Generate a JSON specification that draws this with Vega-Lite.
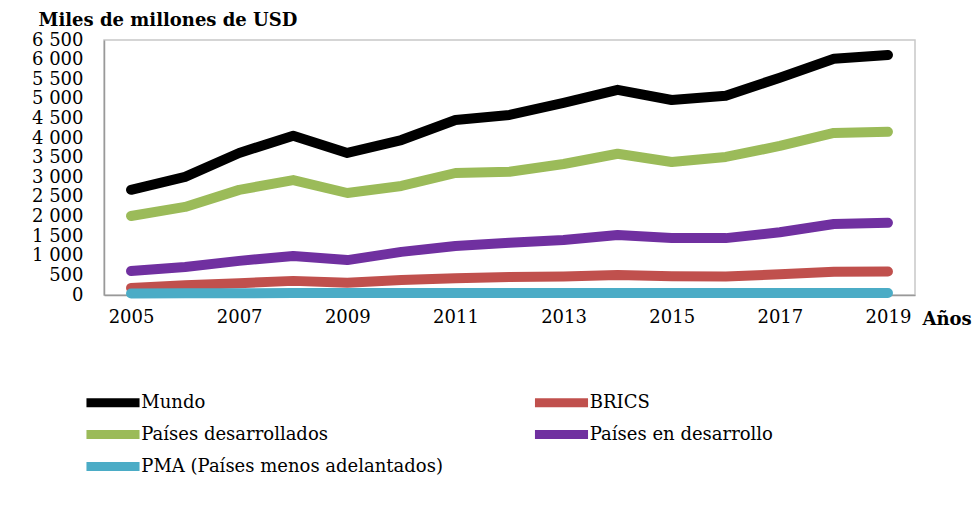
{
  "$schema": "https://vega.github.io/schema/vega-lite/v6.json",
  "autosize": {"type": "none"},
  "width": 811,
  "height": 255,
  "padding": {"left": 104, "top": 40, "right": 59, "bottom": 210},
  "background": "white",
  "config": {
    "font": "DejaVu Serif",
    "view": {"stroke": "#c8c8c8", "strokeWidth": 1.5}
  },
  "data": {
    "values": [
      {"year": 2005, "serie": "Mundo", "value": 2680},
      {"year": 2006, "serie": "Mundo", "value": 3010},
      {"year": 2007, "serie": "Mundo", "value": 3620},
      {"year": 2008, "serie": "Mundo", "value": 4060},
      {"year": 2009, "serie": "Mundo", "value": 3620},
      {"year": 2010, "serie": "Mundo", "value": 3950},
      {"year": 2011, "serie": "Mundo", "value": 4460},
      {"year": 2012, "serie": "Mundo", "value": 4590},
      {"year": 2013, "serie": "Mundo", "value": 4900},
      {"year": 2014, "serie": "Mundo", "value": 5230},
      {"year": 2015, "serie": "Mundo", "value": 4970},
      {"year": 2016, "serie": "Mundo", "value": 5080},
      {"year": 2017, "serie": "Mundo", "value": 5540},
      {"year": 2018, "serie": "Mundo", "value": 6020},
      {"year": 2019, "serie": "Mundo", "value": 6120},
      {"year": 2005, "serie": "Países desarrollados", "value": 2015},
      {"year": 2006, "serie": "Países desarrollados", "value": 2245},
      {"year": 2007, "serie": "Países desarrollados", "value": 2680},
      {"year": 2008, "serie": "Países desarrollados", "value": 2930},
      {"year": 2009, "serie": "Países desarrollados", "value": 2600},
      {"year": 2010, "serie": "Países desarrollados", "value": 2780},
      {"year": 2011, "serie": "Países desarrollados", "value": 3110},
      {"year": 2012, "serie": "Países desarrollados", "value": 3140},
      {"year": 2013, "serie": "Países desarrollados", "value": 3340},
      {"year": 2014, "serie": "Países desarrollados", "value": 3600},
      {"year": 2015, "serie": "Países desarrollados", "value": 3390},
      {"year": 2016, "serie": "Países desarrollados", "value": 3520},
      {"year": 2017, "serie": "Países desarrollados", "value": 3800},
      {"year": 2018, "serie": "Países desarrollados", "value": 4130},
      {"year": 2019, "serie": "Países desarrollados", "value": 4160},
      {"year": 2005, "serie": "Países en desarrollo", "value": 610},
      {"year": 2006, "serie": "Países en desarrollo", "value": 715},
      {"year": 2007, "serie": "Países en desarrollo", "value": 870},
      {"year": 2008, "serie": "Países en desarrollo", "value": 995},
      {"year": 2009, "serie": "Países en desarrollo", "value": 890},
      {"year": 2010, "serie": "Países en desarrollo", "value": 1100},
      {"year": 2011, "serie": "Países en desarrollo", "value": 1250},
      {"year": 2012, "serie": "Países en desarrollo", "value": 1330},
      {"year": 2013, "serie": "Países en desarrollo", "value": 1400},
      {"year": 2014, "serie": "Países en desarrollo", "value": 1530},
      {"year": 2015, "serie": "Países en desarrollo", "value": 1450},
      {"year": 2016, "serie": "Países en desarrollo", "value": 1450},
      {"year": 2017, "serie": "Países en desarrollo", "value": 1600},
      {"year": 2018, "serie": "Países en desarrollo", "value": 1810},
      {"year": 2019, "serie": "Países en desarrollo", "value": 1840},
      {"year": 2005, "serie": "BRICS", "value": 180},
      {"year": 2006, "serie": "BRICS", "value": 250},
      {"year": 2007, "serie": "BRICS", "value": 300},
      {"year": 2008, "serie": "BRICS", "value": 360},
      {"year": 2009, "serie": "BRICS", "value": 310},
      {"year": 2010, "serie": "BRICS", "value": 380},
      {"year": 2011, "serie": "BRICS", "value": 430},
      {"year": 2012, "serie": "BRICS", "value": 460},
      {"year": 2013, "serie": "BRICS", "value": 470},
      {"year": 2014, "serie": "BRICS", "value": 510},
      {"year": 2015, "serie": "BRICS", "value": 480},
      {"year": 2016, "serie": "BRICS", "value": 470},
      {"year": 2017, "serie": "BRICS", "value": 530},
      {"year": 2018, "serie": "BRICS", "value": 590},
      {"year": 2019, "serie": "BRICS", "value": 600},
      {"year": 2005, "serie": "PMA (Países menos adelantados)", "value": 40},
      {"year": 2006, "serie": "PMA (Países menos adelantados)", "value": 42},
      {"year": 2007, "serie": "PMA (Países menos adelantados)", "value": 45},
      {"year": 2008, "serie": "PMA (Países menos adelantados)", "value": 48},
      {"year": 2009, "serie": "PMA (Países menos adelantados)", "value": 48},
      {"year": 2010, "serie": "PMA (Países menos adelantados)", "value": 50},
      {"year": 2011, "serie": "PMA (Países menos adelantados)", "value": 50},
      {"year": 2012, "serie": "PMA (Países menos adelantados)", "value": 52},
      {"year": 2013, "serie": "PMA (Países menos adelantados)", "value": 50},
      {"year": 2014, "serie": "PMA (Países menos adelantados)", "value": 52},
      {"year": 2015, "serie": "PMA (Países menos adelantados)", "value": 51},
      {"year": 2016, "serie": "PMA (Países menos adelantados)", "value": 50},
      {"year": 2017, "serie": "PMA (Países menos adelantados)", "value": 50},
      {"year": 2018, "serie": "PMA (Países menos adelantados)", "value": 51},
      {"year": 2019, "serie": "PMA (Países menos adelantados)", "value": 50}
    ]
  },
  "mark": {"type": "line", "strokeWidth": 10, "strokeCap": "round", "strokeJoin": "round"},
  "encoding": {
    "x": {
      "field": "year",
      "type": "ordinal",
      "scale": {"type": "point", "padding": 0.5},
      "axis": {
        "values": [2005, 2007, 2009, 2011, 2013, 2015, 2017, 2019],
        "labelAngle": 0,
        "labelFont": "DejaVu Serif",
        "labelFontSize": 18,
        "labelColor": "black",
        "labelPadding": 13,
        "ticks": false,
        "domainColor": "#999999",
        "domainWidth": 1.5,
        "grid": false,
        "title": "Años",
        "titleFont": "DejaVu Serif",
        "titleFontSize": 18,
        "titleFontWeight": "bold",
        "titleColor": "black",
        "titleAnchor": "start",
        "titleAlign": "left",
        "titleBaseline": "middle",
        "titleX": 818,
        "titleY": 24
      }
    },
    "y": {
      "field": "value",
      "type": "quantitative",
      "scale": {"domain": [0, 6500], "nice": false},
      "axis": {
        "values": [0, 500, 1000, 1500, 2000, 2500, 3000, 3500, 4000, 4500, 5000, 5500, 6000, 6500],
        "labelExpr": "replace(format(datum.value, ','), ',', ' ')",
        "labelFont": "DejaVu Serif",
        "labelFontSize": 18,
        "labelColor": "black",
        "labelPadding": 21,
        "ticks": false,
        "domainColor": "#999999",
        "domainWidth": 1.5,
        "grid": false,
        "title": "Miles de millones de USD",
        "titleFont": "DejaVu Serif",
        "titleFontSize": 18,
        "titleFontWeight": "bold",
        "titleColor": "black",
        "titleAngle": 0,
        "titleAlign": "left",
        "titleBaseline": "middle",
        "titleAnchor": "start",
        "titleX": -66,
        "titleY": -20
      }
    },
    "color": {
      "field": "serie",
      "type": "nominal",
      "scale": {
        "domain": ["Mundo", "BRICS", "Países desarrollados", "Países en desarrollo", "PMA (Países menos adelantados)"],
        "range": ["#000000", "#C0504D", "#9BBB59", "#7030A0", "#4BACC6"]
      },
      "legend": {
        "title": null,
        "orient": "none",
        "legendX": -4.5,
        "legendY": 349,
        "columns": 2,
        "direction": "horizontal",
        "padding": 0,
        "columnPadding": 72.5,
        "rowPadding": -9,
        "symbolType": "M-3,0H3",
        "symbolSize": 313,
        "symbolStrokeWidth": 9,
        "labelOffset": 14.8,
        "labelFont": "DejaVu Serif",
        "labelFontSize": 18,
        "labelColor": "black",
        "labelLimit": 400
      }
    }
  }
}
